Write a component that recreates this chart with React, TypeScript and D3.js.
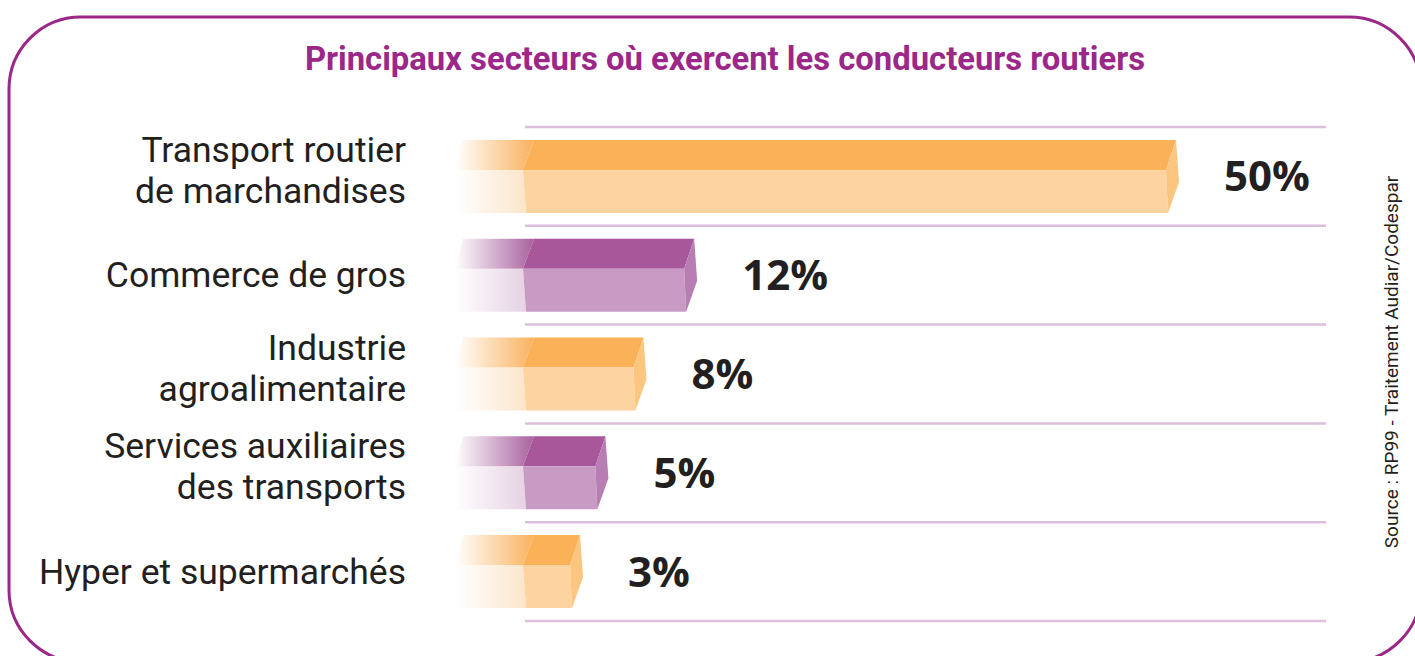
import React from "react";
import * as d3 from "d3";

// chart data
const categories: string[][] = [
  ["Transport routier", "de marchandises"],
  ["Commerce de gros"],
  ["Industrie", "agroalimentaire"],
  ["Services auxiliaires", "des transports"],
  ["Hyper et supermarchés"],
];
const values = [50, 12, 8, 5, 3];
const valueLabels = ["50%", "12%", "8%", "5%", "3%"];

const title = "Principaux secteurs où exercent les conducteurs routiers";
const source = "Source : RP99 - Traitement Audiar/Codespar";

const W = 1415;
const H = 656;

// two colour themes that alternate row by row
const themes = [
  { top: "#fbb157", front: "#fdd39f", end: "#fcc580", fadeTop: "#f9a94c", fadeFront: "#fbe3c4" },
  { top: "#a8579a", front: "#c99bc4", end: "#b87db2", fadeTop: "#a04f94", fadeFront: "#e3cde1" },
];

const App = () => {
  const x0 = 523; // left edge of the bars' front face (a small stub sits before zero)
  const x = d3.scaleLinear().domain([0, 50]).range([532, 1166]);
  const y = d3
    .scaleBand<number>()
    .domain(d3.range(values.length))
    .range([127, 621])
    .padding(0);

  const gridYs = [...values.map((_, i) => y(i) as number), 621];
  const fadeStart = 455;
  const depth = 11;

  return (
    <svg
      width={W}
      height={H}
      style={{ position: "absolute", left: 0, top: 0, display: "block" }}
    >
      <defs>
        {themes.map((t, k) => (
          <React.Fragment key={k}>
            <linearGradient id={`fadeTop${k}`} x1="0" x2="1" y1="0" y2="0">
              <stop offset="0" stopColor={t.fadeTop} stopOpacity={0} />
              <stop offset="1" stopColor={t.fadeTop} stopOpacity={0.9} />
            </linearGradient>
            <linearGradient id={`fadeFront${k}`} x1="0" x2="1" y1="0" y2="0">
              <stop offset="0" stopColor={t.fadeFront} stopOpacity={0} />
              <stop offset="1" stopColor={t.fadeFront} stopOpacity={0.9} />
            </linearGradient>
          </React.Fragment>
        ))}
      </defs>

      <rect x={0} y={0} width={W} height={H} fill="#fff" />

      {/* frame */}
      <rect
        x={9}
        y={17}
        width={1412}
        height={645}
        rx={72}
        ry={72}
        fill="none"
        stroke="#9b2788"
        strokeWidth={3}
      />

      <text
        x={725}
        y={70}
        textAnchor="middle"
        fontFamily="Roboto, sans-serif"
        fontWeight={700}
        fontSize={32.8}
        fill="#9b2788"
      >
        {title}
      </text>

      {/* grid lines */}
      {gridYs.map((gy, i) => (
        <line
          key={i}
          x1={525}
          x2={1326}
          y1={gy}
          y2={gy}
          stroke="#dcbfdc"
          strokeWidth={2.5}
        />
      ))}

      {values.map((v, i) => {
        const t = themes[i % 2];
        const c = (y(i) as number) + y.bandwidth() / 2;
        const yT = c - 36.5;
        const yF = yT + 30;
        const yB = yT + 73;
        const xr = x(v);
        const pts = (p: number[][]) => p.map((q) => q.join(",")).join(" ");
        const lines = categories[i];
        const n = lines.length;
        return (
          <g key={i}>
            {/* faded stub on the left */}
            <polygon
              points={pts([
                [fadeStart + 8, yT],
                [x0 + depth, yT],
                [x0, yF],
                [fadeStart, yF],
              ])}
              fill={`url(#fadeTop${i % 2})`}
            />
            <polygon
              points={pts([
                [fadeStart, yF],
                [x0, yF],
                [x0 + 3, yB],
                [fadeStart, yB],
              ])}
              fill={`url(#fadeFront${i % 2})`}
            />
            {/* top face */}
            <polygon
              points={pts([
                [x0 + depth, yT],
                [xr + depth - 1, yT],
                [xr, yF],
                [x0, yF],
              ])}
              fill={t.top}
            />
            {/* front face */}
            <polygon
              points={pts([
                [x0, yF],
                [xr, yF],
                [xr + 2, yB],
                [x0 + 3, yB],
              ])}
              fill={t.front}
            />
            {/* end face */}
            <polygon
              points={pts([
                [xr, yF],
                [xr + depth - 1, yT],
                [xr + 13, yF + 12],
                [xr + 2, yB],
              ])}
              fill={t.end}
            />

            <text
              x={xr + 58}
              y={c + 15}
              fontFamily="'Open Sans', sans-serif"
              fontWeight={700}
              fontSize={42}
              fill="#231f20"
            >
              {valueLabels[i]}
            </text>

            {lines.map((ln, j) => (
              <text
                key={j}
                x={406}
                y={c + 12 + (j - (n - 1) / 2) * 41 - (n - 1) * 6}
                textAnchor="end"
                fontFamily="Roboto, sans-serif"
                fontSize={35.5}
                fill="#231f20"
              >
                {ln}
              </text>
            ))}
          </g>
        );
      })}

      <text
        transform="translate(1398,362) rotate(-90)"
        textAnchor="middle"
        fontFamily="Roboto, sans-serif"
        fontSize={19}
        fill="#231f20"
      >
        {source}
      </text>
    </svg>
  );
};

export default App;
